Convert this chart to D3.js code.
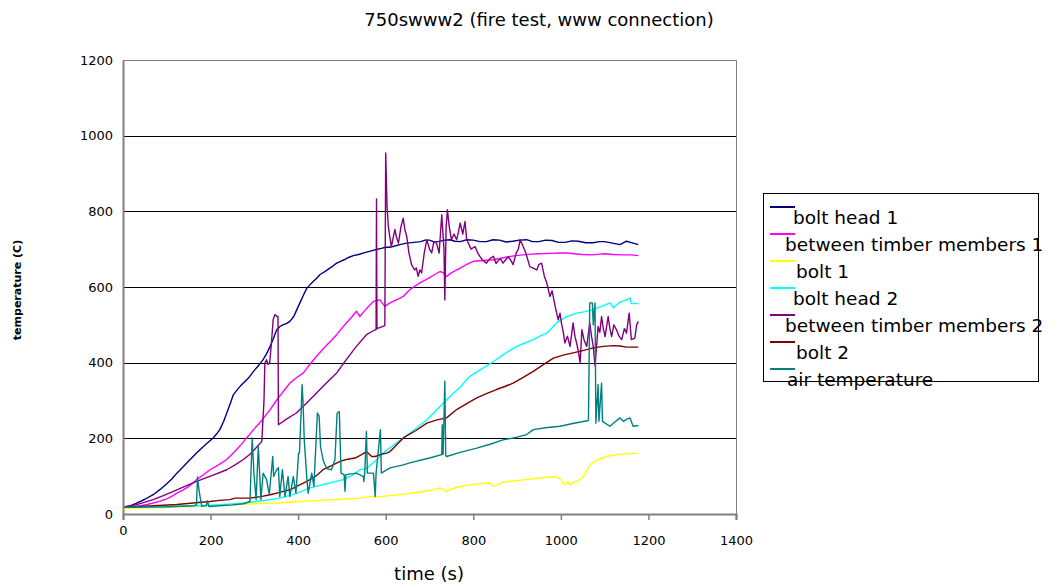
<!DOCTYPE html>
<html>
<head>
<meta charset="utf-8">
<script src="https://cdn.jsdelivr.net/npm/d3@7"></script>
<style>
  html, body { margin: 0; padding: 0; background: #fff; }
  svg { display: block; }
  text { font-family: "DejaVu Sans", sans-serif; fill: #000; }
</style>
</head>
<body>
<svg id="chart" width="1053" height="587"></svg>
<script>
// ---------- data ----------
const chartTitle = "750swww2 (fire test, www connection)";
const xTitle = "time (s)";
const yTitle = "temperature (C)";
const xTicks = [0, 200, 400, 600, 800, 1000, 1200, 1400];
const yTicks = [0, 200, 400, 600, 800, 1000, 1200];
const seriesNames = ["bolt head 1", "between timber members 1", "bolt 1", "bolt head 2",
                     "between timber members 2", "bolt 2", "air temperature"];
const seriesColors = ["#000080", "#ff00ff", "#ffff00", "#00ffff", "#800080", "#800000", "#008080"];

const boltHead1 = [[0,18],[15,21],[30,28],[50,39],[69,51],[85,65],[100,80],[112,93],[123,108],[137,124],[150,140],[168,161],[190,185],[206,201],[214,212],[221,223],[230,245],[237,267],[245,292],[252,315],[262,330],[268,338],[275,346],[287,360],[298,377],[310,393],[320,408],[328,424],[336,443],[344,465],[351,487],[358,495],[365,500],[374,504],[381,509],[390,522],[395,535],[404,558],[412,578],[420,597],[428,607],[435,615],[443,624],[450,633],[460,640],[470,648],[480,656],[488,663],[497,668],[505,672],[515,678],[526,683],[538,686],[550,690],[565,695],[579,699],[590,702],[600,705],[608,705],[617,707],[632,712],[648,716],[665,718],[680,720],[690,724],[700,724],[710,719],[720,720],[735,724],[747,725],[758,721],[770,720],[785,725],[800,724],[815,720],[830,720],[845,725],[860,724],[875,719],[890,721],[905,724],[922,725],[935,720],[950,720],[965,724],[980,723],[995,718],[1010,718],[1025,722],[1040,721],[1057,717],[1074,717],[1088,720],[1100,720],[1118,716],[1135,712],[1150,721],[1165,716],[1177,712]];

const betweenTimber1 = [[0,18],[20,19],[40,22],[55,25],[69,29],[85,34],[100,40],[112,47],[123,55],[137,63],[150,73],[160,82],[168,91],[185,105],[199,117],[218,130],[237,144],[249,158],[259,170],[270,184],[280,198],[290,211],[298,223],[310,238],[320,252],[328,264],[336,276],[348,296],[360,315],[371,331],[381,346],[396,360],[412,373],[427,396],[442,417],[454,432],[465,446],[477,460],[488,474],[499,490],[510,505],[522,520],[533,536],[541,522],[550,535],[560,548],[572,562],[580,564],[587,566],[593,556],[598,549],[607,556],[617,562],[628,568],[640,575],[648,585],[655,593],[666,602],[678,611],[690,618],[700,625],[712,633],[724,641],[731,638],[739,628],[748,636],[760,644],[770,650],[785,660],[800,668],[823,670],[846,672],[863,676],[880,680],[897,683],[914,685],[932,687],[950,688],[975,689],[998,690],[1015,690],[1030,688],[1050,686],[1074,685],[1087,687],[1100,688],[1120,686],[1140,685],[1160,685],[1177,683]];

const bolt1 = [[0,15],[100,17],[161,20],[250,24],[300,27],[351,29],[400,33],[450,36],[500,39],[541,42],[564,46],[587,46],[620,50],[655,54],[680,58],[700,62],[724,69],[739,60],[760,70],[792,77],[815,80],[838,82],[846,73],[868,84],[895,88],[922,91],[952,95],[987,99],[998,93],[1009,77],[1016,86],[1021,77],[1028,83],[1040,88],[1052,99],[1066,130],[1085,144],[1104,152],[1127,157],[1150,159],[1177,161]];

const boltHead2 = [[0,18],[100,19],[200,23],[240,26],[275,29],[318,35],[358,42],[395,54],[427,69],[465,80],[503,91],[525,103],[541,117],[556,120],[572,136],[587,152],[594,161],[618,182],[640,201],[655,214],[675,232],[694,249],[716,275],[739,302],[755,320],[770,335],[792,364],[820,384],[846,403],[872,424],[899,443],[918,452],[937,461],[952,470],[968,478],[980,492],[990,505],[1010,520],[1036,531],[1055,535],[1074,540],[1088,547],[1100,552],[1112,558],[1120,545],[1135,560],[1150,566],[1158,571],[1161,556],[1177,556]];

const betweenTimber2 = [[0,18],[35,26],[69,38],[95,50],[123,64],[145,75],[168,86],[200,100],[237,117],[256,130],[275,144],[290,158],[300,170],[317,192],[322,300],[324,399],[328,408],[331,395],[335,400],[339,452],[343,514],[347,527],[352,522],[354,522],[355,236],[375,252],[396,267],[420,294],[442,320],[465,347],[488,373],[510,408],[533,443],[556,474],[576,487],[578,487],[579,833],[580,490],[594,496],[598,498],[600,954],[603,813],[606,760],[609,735],[613,707],[617,730],[621,752],[625,730],[629,716],[635,760],[640,782],[644,750],[648,734],[653,690],[659,659],[666,645],[670,650],[674,628],[678,645],[682,637],[688,690],[694,725],[700,700],[705,690],[710,720],[716,716],[722,690],[728,791],[733,700],[735,566],[738,760],[741,804],[745,760],[750,725],[756,740],[762,725],[766,745],[770,769],[776,740],[781,773],[785,725],[795,700],[804,707],[810,690],[815,681],[822,670],[830,663],[838,675],[846,681],[852,662],[856,668],[862,675],[868,663],[874,672],[880,680],[886,670],[891,659],[898,690],[903,700],[907,725],[914,707],[920,690],[929,654],[937,650],[945,645],[950,660],[956,663],[962,630],[968,610],[975,575],[980,590],[987,549],[994,513],[998,531],[1002,500],[1006,478],[1009,452],[1015,470],[1021,443],[1028,505],[1032,470],[1036,452],[1040,430],[1044,400],[1048,487],[1053,460],[1059,443],[1066,505],[1070,470],[1074,443],[1078,392],[1082,450],[1085,496],[1089,480],[1093,522],[1097,490],[1101,469],[1108,522],[1112,490],[1116,469],[1121,500],[1127,487],[1133,470],[1139,461],[1145,490],[1150,478],[1156,531],[1161,461],[1169,465],[1173,500],[1177,509]];

const bolt2 = [[0,18],[60,21],[123,25],[160,29],[199,33],[220,36],[244,38],[256,42],[290,42],[315,46],[336,51],[360,58],[381,64],[400,75],[420,86],[440,100],[457,117],[475,127],[496,139],[510,144],[530,148],[545,157],[556,165],[568,152],[576,152],[590,158],[602,161],[610,165],[625,183],[640,201],[668,220],[694,240],[715,248],[739,254],[762,276],[785,292],[808,307],[830,318],[853,329],[872,337],[891,346],[915,362],[937,377],[960,395],[983,412],[1005,420],[1028,426],[1050,432],[1074,439],[1097,443],[1120,445],[1135,444],[1150,441],[1177,441]];

const airTemperature = [[0,18],[100,19],[161,22],[168,25],[170,98],[174,60],[176,46],[180,20],[190,22],[193,35],[196,20],[250,24],[275,27],[290,33],[295,201],[299,108],[304,38],[309,179],[312,108],[315,38],[320,108],[328,91],[334,51],[342,152],[344,99],[351,117],[355,122],[358,46],[364,117],[370,46],[377,99],[381,46],[389,99],[395,55],[401,161],[403,161],[407,276],[409,342],[411,300],[414,196],[420,91],[423,55],[431,108],[436,73],[444,267],[448,258],[451,179],[457,143],[465,120],[476,117],[484,143],[489,267],[494,271],[498,108],[505,104],[507,60],[509,104],[533,108],[549,99],[550,86],[552,108],[556,218],[558,108],[572,108],[576,46],[578,108],[588,223],[590,108],[610,122],[640,130],[655,135],[700,148],[728,157],[729,236],[731,157],[735,351],[737,155],[739,152],[770,163],[808,174],[840,185],[868,196],[900,203],[922,210],[937,223],[965,228],[998,232],[1030,240],[1063,247],[1066,558],[1072,558],[1074,500],[1078,558],[1080,240],[1085,342],[1087,245],[1093,346],[1095,245],[1112,232],[1120,240],[1135,254],[1143,245],[1150,250],[1158,254],[1165,232],[1177,234]];

const seriesData = [boltHead1, betweenTimber1, bolt1, boltHead2, betweenTimber2, bolt2, airTemperature];

// ---------- layout ----------
const svg = d3.select("#chart");
const plot = { left: 123, right: 736, top: 60, bottom: 514 };

const x = d3.scaleLinear().domain([0, 1400]).range([plot.left, plot.right]);
const y = d3.scaleLinear().domain([0, 1200]).range([plot.bottom, plot.top]);

// gridlines
svg.append("g").selectAll("line")
  .data(yTicks.filter(d => d > 0 && d < 1200))
  .join("line")
  .attr("x1", plot.left).attr("x2", plot.right)
  .attr("y1", d => Math.round(y(d)) + 0.5).attr("y2", d => Math.round(y(d)) + 0.5)
  .attr("stroke", "#000").attr("stroke-width", 1);

// plot frame (top and right)
svg.append("path")
  .attr("d", `M${plot.left},${plot.top + 0.5}H${plot.right + 0.5}V${plot.bottom}`)
  .attr("fill", "none").attr("stroke", "#808080").attr("stroke-width", 1);

// series lines
const line = d3.line().x(d => x(d[0])).y(d => y(d[1]));
svg.append("g").selectAll("path")
  .data(seriesData)
  .join("path")
  .attr("d", line)
  .attr("fill", "none")
  .attr("stroke", (d, i) => seriesColors[i])
  .attr("stroke-width", 1.4)
  .attr("stroke-linejoin", "round");

// y axis
const yAxis = d3.axisLeft(y).tickValues(yTicks).tickFormat(d3.format("d")).tickSize(0).tickPadding(10);
const gy = svg.append("g").attr("transform", `translate(${plot.left},0)`).call(yAxis);
gy.select(".domain").attr("stroke", "#808080").attr("stroke-width", 2);
gy.selectAll("text").style("font-size", "13px").style("font-family", "DejaVu Sans");

// x axis
const xAxis = d3.axisBottom(x).tickValues(xTicks).tickFormat(d3.format("d")).tickSize(6).tickPadding(4);
const gx = svg.append("g").attr("transform", `translate(0,${plot.bottom})`).call(xAxis);
gx.select(".domain").attr("stroke", "#808080").attr("stroke-width", 2);
gx.selectAll(".tick line").attr("stroke", "#808080").attr("stroke-width", 1.5);
gx.selectAll("text").style("font-size", "13px").style("font-family", "DejaVu Sans")
  .attr("y", (d, i) => i === 0 ? 12 : 22);

// titles
svg.append("text").attr("x", 539).attr("y", 26).attr("text-anchor", "middle")
  .style("font-size", "18px").text(chartTitle);
svg.append("text").attr("x", 429).attr("y", 580).attr("text-anchor", "middle")
  .style("font-size", "18px").text(xTitle);
svg.append("text")
  .attr("transform", "translate(21,290) rotate(-90)")
  .attr("text-anchor", "middle")
  .style("font-size", "11px").style("font-weight", "bold").text(yTitle);

// legend
const legend = { x: 763, y: 193, w: 275, h: 188, first: 207, step: 27 };
const legendTextX = [793, 785, 796, 793, 785, 796, 787];
svg.append("rect")
  .attr("x", legend.x + 0.5).attr("y", legend.y + 0.5)
  .attr("width", legend.w).attr("height", legend.h)
  .attr("fill", "#fff").attr("stroke", "#000").attr("stroke-width", 1);
const items = svg.append("g").selectAll("g").data(seriesNames).join("g");
items.append("line")
  .attr("x1", 770).attr("x2", 795)
  .attr("y1", (d, i) => legend.first + i * legend.step)
  .attr("y2", (d, i) => legend.first + i * legend.step)
  .attr("stroke", (d, i) => seriesColors[i]).attr("stroke-width", 2);
items.append("text")
  .attr("x", (d, i) => legendTextX[i])
  .attr("y", (d, i) => legend.first + i * legend.step + 17)
  .style("font-size", "18.5px")
  .text(d => d);
</script>
</body>
</html>
